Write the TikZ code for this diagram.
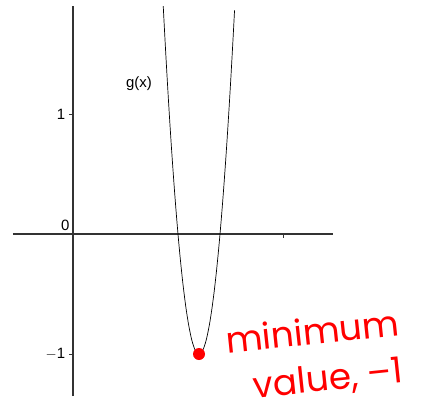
\documentclass[tikz,border=0pt]{standalone}
\usepackage{fontspec}
\setmainfont{Liberation Sans}
\newfontfamily\handfont{Poppins}
\usetikzlibrary{arrows.meta}

\begin{document}
\begin{tikzpicture}[x=210bp, y=120bp, semithick]
  \useasboundingbox (-0.3476,-1.375) rectangle (1.7,1.95);

  % axes
  \draw[black!80, line width=1.2bp] (-0.2857,0) -- (1.238,0);
  \draw[black!80, line width=1.2bp] (0,-1.35) -- (0,1.9);
  \draw[black!80] (1,0) -- (1,-0.03);
  \foreach \i in {-1,1} \draw[black!80] (0,\i) -- (-0.02,\i);

  % tick labels
  \node[font=\fontsize{15}{18}\selectfont, left] (one) at (-0.02,1) {1};
  \node[font=\fontsize{15}{18}\selectfont, left] (mone) at (-0.02,-1) {$-$1};
  \node[font=\fontsize{15}{18}\selectfont, above left] (zero) at (0,0) {0};

  % g(x) = 100(x-0.6)^2 - 1
  \draw[black, line width=0.7bp, domain=0.4297:0.7703, samples=120] plot (\x, {100*(\x-0.6)^2-1});
  \node[font=\fontsize{15}{18}\selectfont] (glabel) at (0.314,1.255) {g(x)};

  % minimum point
  \coordinate (M) at (0.6,-1);
  \fill[red] (M) circle (6bp);
  \node[red, font=\handfont\fontsize{36}{36}\selectfont, rotate=6, inner sep=0pt] (minlabel) at (1.14,-0.81) {minimum};
  \node[red, font=\handfont\fontsize{36}{36}\selectfont, rotate=6, inner sep=0pt] (vallabel) at (1.215,-1.215) {value, –1};
\end{tikzpicture}
\end{document}
